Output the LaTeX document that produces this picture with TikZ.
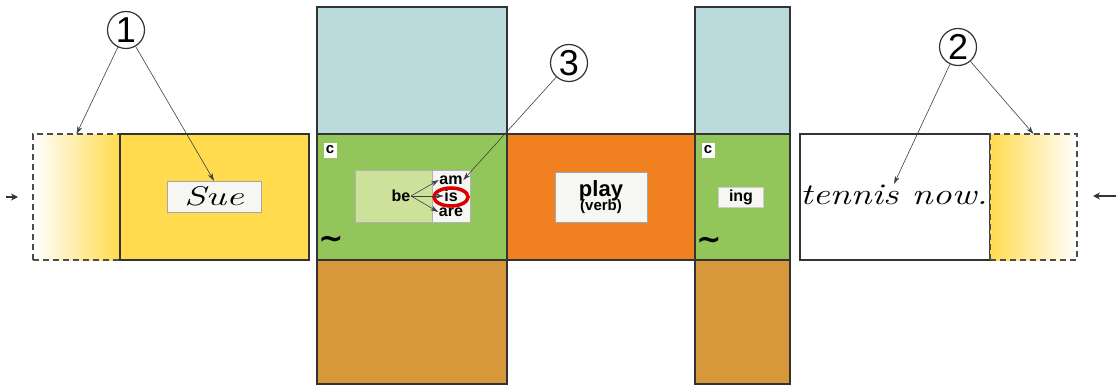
\documentclass[tikz,border=0pt]{standalone}
\usepackage{fontspec}
\usepackage{graphicx}
\setsansfont{Liberation Sans}
\newfontfamily\symfont{DejaVu Sans}
\usepackage{tikz}
\usetikzlibrary{arrows.meta, positioning, shapes.geometric}

\definecolor{sueyellow}{RGB}{255,219,77}
\definecolor{slotgreen}{RGB}{146,198,90}
\definecolor{slotblue}{RGB}{186,218,220}
\definecolor{slotbrown}{RGB}{215,152,60}
\definecolor{playorange}{RGB}{240,128,32}
\definecolor{paleleaf}{RGB}{204,226,155}
\definecolor{paper}{RGB}{246,246,242}

\begin{document}
\begin{tikzpicture}[
  x=1pt, y=-1pt,
  slot/.style={rectangle, draw=black!80, line width=1.4pt, outer sep=0pt, inner sep=0pt, minimum height=126pt},
  tailbox/.style={rectangle, draw=black!70, dash pattern=on 6pt off 4pt, line width=1.4pt, outer sep=0pt, minimum width=87pt, minimum height=126pt},
  card/.style={rectangle, draw=black!35, fill=paper, inner sep=3pt, align=center},
  word/.style={font=\sffamily\bfseries\fontsize{16}{16}\selectfont, inner sep=0.5pt},
  tag/.style={rectangle, fill=white, inner sep=0pt, minimum width=13pt, minimum height=15pt, font=\sffamily\bfseries\fontsize{15}{15}\selectfont},
  wave/.style={inner sep=0pt, font=\symfont\bfseries\fontsize{30}{30}\selectfont},
  callout/.style={circle, draw=black!80, line width=1.2pt, minimum size=37pt, inner sep=0pt, font=\sffamily\fontsize{36}{36}\selectfont},
  pointer/.style={-{Stealth[length=8pt,width=5pt]}, black!75, line width=0.6pt},
  arrow/.style={-{Stealth[length=7pt,width=7pt]}, black!80, line width=2pt}
]
\useasboundingbox (0,0) rectangle (1118,385);

% subject slot
\node (tailL) [tailbox, left color=white, right color=sueyellow] at (76.5,197) {};
\node (subj) [slot, fill=sueyellow, minimum width=189pt, right=0pt of tailL] {};
\node (sue) [card, minimum width=94pt, minimum height=31pt, font=\itshape\fontsize{27}{27}\selectfont] at (214,196.5) {\scalebox{1.45}[1]{Sue}};

% be slot
\node (beslot) [slot, fill=slotgreen, minimum width=190pt] at (412,197) {};
\node (beup) [slot, fill=slotblue, minimum width=190pt, minimum height=127pt, above=0pt of beslot] {};
\node (bedown) [slot, fill=slotbrown, minimum width=190pt, minimum height=124pt, below=0pt of beslot] {};
\node (betag) [tag] at (330,150) {c};
\node (bewave) [wave] at (331,242) {∼};
\node (beleft) [rectangle, draw=black!30, fill=paleleaf, minimum width=77pt, minimum height=52pt, inner sep=0pt] at (393.5,196) {};
\node (beright) [rectangle, draw=black!30, fill=paper, minimum width=38pt, minimum height=52pt, inner sep=0pt, right=0pt of beleft] {};
\node (be) [word] at (401,196) {be};
\node (am) [word] at (451,180) {am};
\node (is) [word] at (451,196) {is};
\node (are) [word] at (451,212) {are};
\node (ring) [ellipse, draw=red!85!black, line width=3.5pt, minimum width=34pt, minimum height=18pt] at (451,197) {};
\draw [pointer] (be.east) -- (am.west);
\draw [pointer] (be.east) -- (is.west);
\draw [pointer] (be.east) -- (are.west);

% verb slot
\node (verb) [slot, fill=playorange, minimum width=188pt, right=0pt of beslot] {};
\node (play) [card, minimum width=92pt, minimum height=50pt, font=\sffamily\bfseries] at (601,197)
  {{\fontsize{22}{22}\selectfont play}\\[-2pt]{\fontsize{15}{15}\selectfont (verb)}};

% ing slot
\node (ingslot) [slot, fill=slotgreen, minimum width=95pt, right=0pt of verb] {};
\node (ingup) [slot, fill=slotblue, minimum width=95pt, minimum height=127pt, above=0pt of ingslot] {};
\node (ingdown) [slot, fill=slotbrown, minimum width=95pt, minimum height=124pt, below=0pt of ingslot] {};
\node (ingtag) [tag] at (708,150) {c};
\node (ingwave) [wave] at (709,243) {∼};
\node (ing) [card, draw=black!20, fill=paper, minimum width=45pt, minimum height=20pt, inner sep=1pt, font=\sffamily\bfseries\fontsize{16}{16}\selectfont] at (741,197) {ing};

% object slot
\node (obj) [slot, fill=white, minimum width=190pt] at (895,197) {};
\node (tailR) [tailbox, left color=sueyellow, right color=white, right=0pt of obj] {};
\node (tennis) [inner sep=1pt, font=\itshape\fontsize{30}{30}\selectfont] at (894,195) {\scalebox{1.27}[1]{tennis now.}};

% callouts
\node (c1) [callout] at (126,30) {1};
\node (c2) [callout] at (958,47) {2};
\node (c3) [callout] at (569,63) {3};
\draw [pointer] (c1) -- (tailL.north);
\draw [pointer] (c1) -- (sue.north);
\draw [pointer] (c2) -- (tennis.north);
\draw [pointer] (c2) -- (tailR.north);
\draw [pointer] (c3) -- (am.east);

% side marks
\coordinate (inL) at (6,197);
\coordinate (inLend) at (18,197);
\coordinate (inR) at (1116,196);
\coordinate (inRend) at (1093,196);
\draw [arrow] (inL) -- (inLend);
\draw [arrow] (inR) -- (inRend);
\end{tikzpicture}
\end{document}
